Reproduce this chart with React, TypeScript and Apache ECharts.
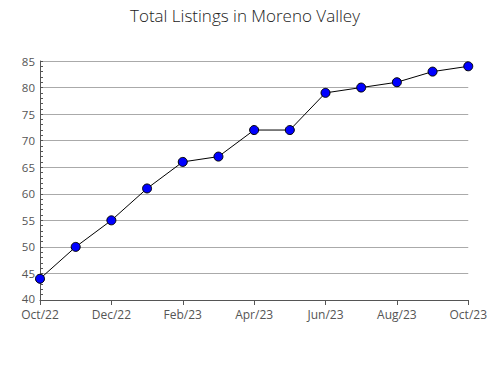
import React, { useEffect, useRef } from "react";
import * as echarts from "echarts";

const categories = ["Oct/22","Nov/22","Dec/22","Jan/23","Feb/23","Mar/23","Apr/23","May/23","Jun/23","Jul/23","Aug/23","Sep/23","Oct/23"];
const listings = [44, 50, 55, 61, 66, 67, 72, 72, 79, 80, 81, 83, 84];
const titleText = "Total Listings in Moreno Valley";

export default function App() {
  const ref = useRef<HTMLDivElement>(null);
  useEffect(() => {
    const chart = echarts.init(ref.current!, null, { renderer: "svg" });
    chart.setOption({
      animation: false,
      title: {
        text: titleText,
        left: "center",
        top: 2,
        textStyle: { fontFamily: "Open Sans", fontSize: 17, fontWeight: 300, color: "#222" },
      },
      grid: { left: 40, right: 19, top: 61, bottom: 80 },
      xAxis: {
        type: "category",
        data: categories,
        boundaryGap: false,
        axisLine: { lineStyle: { color: "#555", width: 1 } },
        axisTick: { show: true, length: 5, lineStyle: { color: "#555" } },
        axisLabel: {
          interval: 1,
          color: "#555",
          fontFamily: "Open Sans",
          fontSize: 12,
          lineHeight: 12,
          margin: 8,
          showMaxLabel: true,
        },
        splitLine: { show: false },
      },
      yAxis: {
        type: "value",
        min: 40,
        max: 85,
        interval: 5,
        axisLine: { show: true, lineStyle: { color: "#555", width: 1 } },
        axisTick: { show: true, inside: true, length: 3, lineStyle: { color: "#555" } },
        minorTick: { show: true, splitNumber: 5, length: 3, lineStyle: { color: "#555" } },
        axisLabel: {
          color: "#555",
          fontFamily: "Open Sans",
          fontSize: 11.5,
          lineHeight: 11,
          margin: 5,
          formatter: (v: number) => (v === 40 ? "{low|" + v + "}" : String(v)),
          rich: {
            low: { fontFamily: "Open Sans", fontSize: 11.5, lineHeight: 11, color: "#555", padding: [0, 0, 4, 0] },
          },
        },
        splitLine: { show: true, lineStyle: { color: "#aaa", width: 1 } },
      },
      series: [
        {
          type: "line",
          data: listings,
          symbol: "circle",
          symbolSize: 9,
          lineStyle: { color: "#000", width: 1 },
          itemStyle: { color: "#0000ff", borderColor: "#000", borderWidth: 1 },
        },
      ],
    });
    return () => chart.dispose();
  }, []);
  return <div ref={ref} style={{ width: 490, height: 380, position: "absolute", left: 0, top: 0 }} />;
}
